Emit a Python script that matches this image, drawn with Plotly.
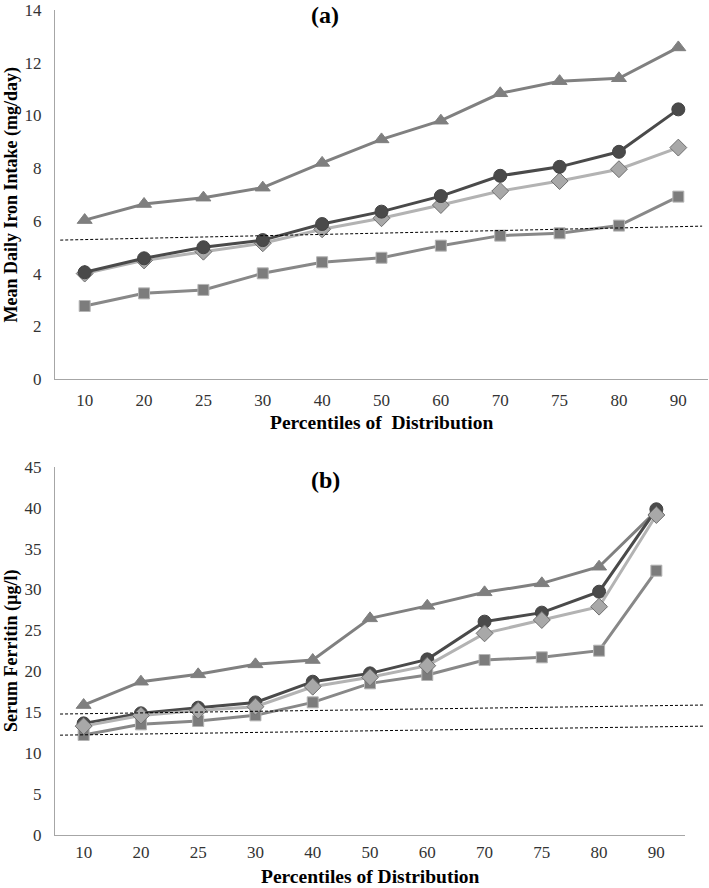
import plotly.graph_objects as go

percentiles = ["10", "20", "25", "30", "40", "50", "60", "70", "75", "80", "90"]

# Panel (a): Mean daily iron intake (mg/day)
a_triangle = [6.03, 6.64, 6.88, 7.26, 8.2, 9.09, 9.8, 10.84, 11.3, 11.41, 12.58]
a_circle = [4.05, 4.58, 5.0, 5.27, 5.88, 6.35, 6.94, 7.71, 8.05, 8.62, 10.23]
a_diamond = [4.0, 4.5, 4.83, 5.15, 5.68, 6.1, 6.6, 7.13, 7.51, 7.96, 8.78]
a_square = [2.77, 3.25, 3.38, 4.01, 4.43, 4.6, 5.06, 5.44, 5.53, 5.82, 6.92]
a_ref = [5.27, 5.8]

# Panel (b): Serum ferritin (µg/l)
b_triangle = [15.88, 18.73, 19.63, 20.85, 21.38, 26.47, 28.0, 29.65, 30.75, 32.78, 39.6]
b_circle = [13.64, 14.87, 15.56, 16.2, 18.73, 19.75, 21.46, 26.07, 27.17, 29.73, 39.8]
b_diamond = [13.3, 14.6, 15.2, 15.68, 18.12, 19.27, 20.69, 24.64, 26.27, 27.9, 39.1]
b_square = [12.22, 13.52, 13.93, 14.62, 16.21, 18.53, 19.55, 21.38, 21.71, 22.52, 32.3]
b_ref_upper = [14.78, 15.88]
b_ref_lower = [12.2, 13.3]

idx = list(range(len(percentiles)))

styles = {
    "triangle": dict(line=dict(color="#808080", width=3),
                     marker=dict(symbol="triangle-up", size=13, color="#7f7f7f",
                                 line=dict(color="#7f7f7f", width=1))),
    "circle": dict(line=dict(color="#4a4a4a", width=3),
                   marker=dict(symbol="circle", size=13, color="#4a4a4a",
                               line=dict(color="#444", width=1))),
    "diamond": dict(line=dict(color="#b3b3b3", width=3),
                    marker=dict(symbol="diamond", size=13, color="#a8a8a8",
                                line=dict(color="#6f6f6f", width=1))),
    "square": dict(line=dict(color="#888888", width=3),
                   marker=dict(symbol="square", size=11, color="#7c7c7c",
                               line=dict(color="#b5b5b5", width=1))),
}

fig = go.Figure()

def add(vals, key, xa, ya):
    fig.add_trace(go.Scatter(x=idx, y=vals, mode="lines+markers", xaxis=xa, yaxis=ya,
                             showlegend=False, hoverinfo="skip", **styles[key]))

for vals, key in [(a_triangle, "triangle"), (a_square, "square"), (a_diamond, "diamond"), (a_circle, "circle")]:
    add(vals, key, "x", "y")
for vals, key in [(b_triangle, "triangle"), (b_square, "square"), (b_circle, "circle"), (b_diamond, "diamond")]:
    add(vals, key, "x2", "y2")

tickfont = dict(family="Liberation Serif", size=17, color="#333333")
axcommon = dict(showgrid=False, zeroline=False, showline=True, linecolor="#a6a6a6", linewidth=1,
                ticks="", tickfont=tickfont, fixedrange=True)

fig.update_layout(
    width=709, height=888,
    margin=dict(l=55, r=1, t=10, b=53),
    plot_bgcolor="white", paper_bgcolor="white",
    xaxis=dict(domain=[0, 1], anchor="y", range=[-0.5, 10.5], tickvals=idx, ticktext=percentiles,
               ticklabelstandoff=6, **axcommon),
    yaxis=dict(domain=[0.5527, 1.0], anchor="x", range=[0, 14], dtick=2,
               ticklabelstandoff=9, **axcommon),
    xaxis2=dict(domain=[0, 630 / 653], anchor="y2", range=[-0.5, 10.5], tickvals=idx, ticktext=percentiles,
                ticklabelstandoff=2, **axcommon),
    yaxis2=dict(domain=[0, 0.4464], anchor="x2", range=[0, 45], dtick=5,
                ticklabelstandoff=9, **axcommon),
)

dash = dict(color="black", width=1, dash="3px,2px")
fig.add_shape(type="line", xref="x domain", yref="y", x0=0.008, x1=0.991,
              y0=a_ref[0], y1=a_ref[1], line=dash)
fig.add_shape(type="line", xref="x2 domain", yref="y2", x0=0.008, x1=1.029,
              y0=b_ref_upper[0], y1=b_ref_upper[1], line=dash)
fig.add_shape(type="line", xref="x2 domain", yref="y2", x0=0.008, x1=1.029,
              y0=b_ref_lower[0], y1=b_ref_lower[1], line=dash)

xtitlefont = dict(family="Liberation Serif", size=19.5, color="black")
ytitlefont = dict(family="Liberation Serif", size=18, color="black")
fig.add_annotation(text="<b>Percentiles of \u00a0Distribution</b>", x=0.5, y=0.4994,
                   font=xtitlefont, xanchor="center", yanchor="middle")
fig.add_annotation(text="<b>Percentiles of Distribution</b>", x=0.4824, y=-0.0509,
                   font=xtitlefont, xanchor="center", yanchor="middle")
fig.add_annotation(text="<b>Mean Daily Iron Intake (mg/day)</b>", x=-0.0658, y=0.7763, textangle=-90,
                   font=ytitlefont, xanchor="center", yanchor="middle")
fig.add_annotation(text="<b>Serum Ferritin (µg/l)</b>", x=-0.0658, y=0.2232, textangle=-90,
                   font=ytitlefont, xanchor="center", yanchor="middle")

labfont = dict(family="Liberation Serif", size=24, color="black")
fig.add_annotation(text="<b>(a)</b>", x=0.4135, y=0.9939, font=labfont, xanchor="center", yanchor="middle")
fig.add_annotation(text="<b>(b)</b>", x=0.4135, y=0.4303, font=labfont, xanchor="center", yanchor="middle")
fig.update_annotations(xref="paper", yref="paper", showarrow=False)

# remove the default 8px page margin so the figure fills the window exactly
fig.write_html("out.html", config={"displayModeBar": False},
               post_script="document.body.style.margin='0';document.body.style.padding='0';"
                           "document.documentElement.style.overflow='hidden';")
